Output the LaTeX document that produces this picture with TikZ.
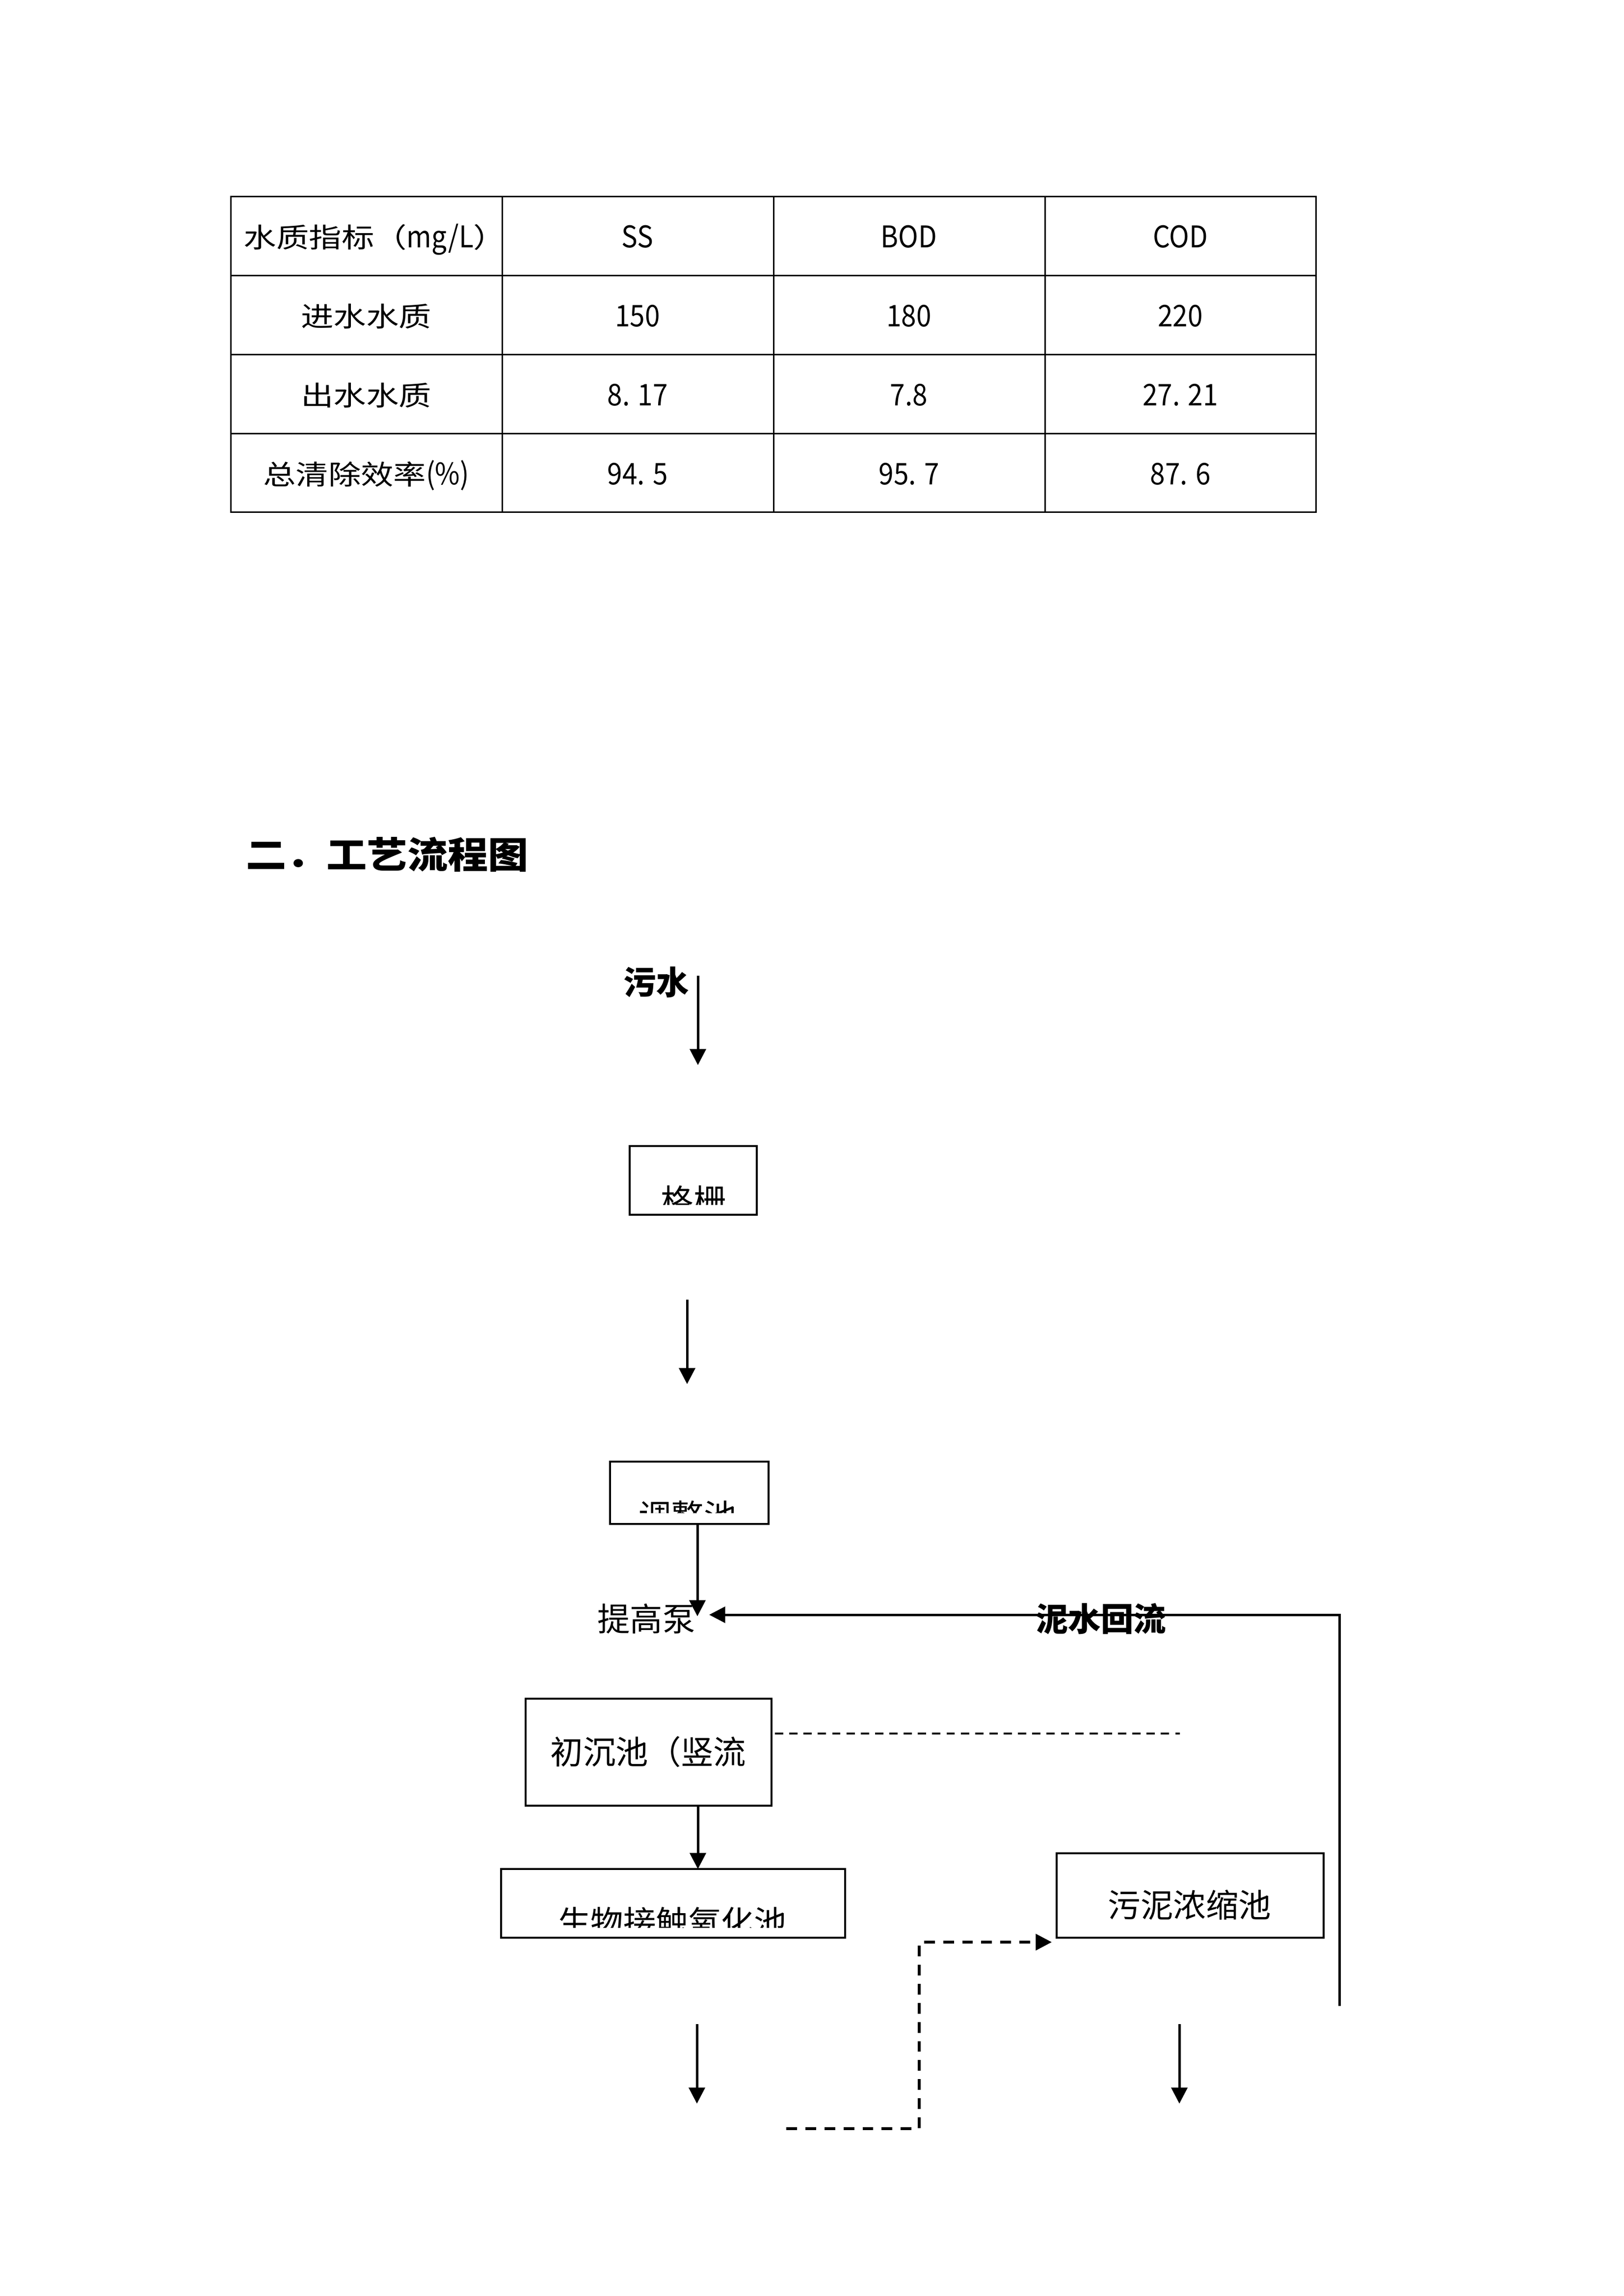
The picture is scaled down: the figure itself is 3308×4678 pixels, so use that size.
\documentclass[tikz,border=0pt]{standalone}
\usepackage{fontspec}
\setmainfont{Noto Sans CJK SC}
\newfontfamily\tabfont[FakeStretch=1.2]{Noto Sans CJK SC}
\newfontfamily\tablat[FakeStretch=0.9]{Noto Sans CJK SC}
\newfontfamily\headfont[FakeStretch=1.1]{Noto Sans CJK SC}
\newcommand\tlat[1]{{\tablat\fontsize{11}{13}\selectfont #1}}
\usetikzlibrary{arrows.meta}
\newdimen\pxu \pxu=0.0634825mm
\tikzset{
  tbl/.style={line width=0.54pt},
  box/.style={draw, line width=0.72pt, inner sep=0pt, outer sep=0pt},
  arr/.style={line width=0.9pt, -{Triangle[length=5.9pt,width=5.9pt]}},
  dasharr/.style={line width=1pt, dash pattern=on 3.96pt off 3.06pt, -{Triangle[length=5.9pt,width=5.9pt]}},
  dashln/.style={line width=0.8pt, dash pattern=on 3.06pt off 2.2pt},
  lbl/.style={inner sep=0pt, anchor=base, font=\fontsize{12}{14}\selectfont},
  blbl/.style={inner sep=0pt, anchor=base, font=\bfseries\fontsize{12}{14}\selectfont},
  tcell/.style={inner sep=0pt, anchor=base, font=\tabfont\fontsize{10}{12}\selectfont},
  tnum/.style={inner sep=0pt, anchor=base, font=\tablat\fontsize{11}{13}\selectfont}
}
\begin{document}
\begin{tikzpicture}[x=0.0634825mm, y=-0.0634825mm]
\useasboundingbox (0,0) rectangle (3308,4678);
\fill[white] (0,0) rectangle (3308,4678);

% ---------- table ----------
\draw[tbl] (470,401) rectangle (2681,1044);
\foreach \xx in {1023,1576,2129} \draw[tbl] (\xx,401) -- (\xx,1044);
\foreach \yy in {562,723,884} \draw[tbl] (470,\yy) -- (2681,\yy);

\node[tcell] (h0) at (764,505) {水质指标（\tlat{mg/L}）};
\node[tnum] (h1) at (1299,505) {SS};
\node[tnum] (h2) at (1852,505) {BOD};
\node[tnum] (h3) at (2405,505) {COD};

\node[tcell] (a0) at (746,666) {进水水质};
\node[tnum] (a1) at (1299,666) {150};
\node[tnum] (a2) at (1852,666) {180};
\node[tnum] (a3) at (2405,666) {220};

\node[tcell] (b0) at (746,827) {出水水质};
\node[tnum] (b1) at (1299,827) {8. 17};
\node[tnum] (b2) at (1852,827) {7.8};
\node[tnum] (b3) at (2405,827) {27. 21};

\node[tcell] (c0) at (746,988) {总清除效率\tlat{(\%)}};
\node[tnum] (c1) at (1299,988) {94. 5};
\node[tnum] (c2) at (1852,988) {95. 7};
\node[tnum] (c3) at (2405,988) {87. 6};

% ---------- heading ----------
\node[inner sep=0pt, anchor=base west, font=\headfont\bfseries\fontsize{13.5}{16}\selectfont] (title) at (500,1769) {二．工艺流程图};

% ---------- flow chart ----------
\node[blbl] (ws) at (1337,2026) {污水};
\coordinate (a1s) at (1422,1988);
\coordinate (a1e) at (1422,2170);
\draw[arr] (a1s) -- (a1e);

% 格栅
\node[box, minimum width=259\pxu, minimum height=140\pxu] (gs) at (1412.5,2405) {};
\begin{scope}
  \clip (1283,2335) rectangle (1542,2454);
  \node[lbl] (gst) at (1413,2471) {格栅};
\end{scope}

\coordinate (a2s) at (1400,2648);
\coordinate (a2e) at (1400,2820);
\draw[arr] (a2s) -- (a2e);

% 调整池
\node[box, minimum width=323\pxu, minimum height=127\pxu] (tz) at (1404.5,3041.5) {};
\begin{scope}
  \clip (1243,2978) rectangle (1566,3082);
  \node[lbl] (tzt) at (1401,3113) {调整池};
\end{scope}

% 提高泵
\node[lbl] (pump) at (1317,3323) {提高泵};
\coordinate (pin) at (1421,3293);
\draw[arr] (tz.south -| pin) -- (pin);

% 泥水回流
\coordinate (r1) at (2729,4087);
\coordinate (r2) at (2729,3290);
\coordinate (r3) at (1445,3290);
\draw[arr] (r1) -- (r2) -- (r3);
\node[blbl] (ret) at (2243,3323) {泥水回流};

% 初沉池
\node[box, minimum width=501\pxu, minimum height=218\pxu] (cc) at (1321.5,3570) {};
\node[lbl] (cct) at (1321,3594) {初沉池（竖流};
\coordinate (d1) at (1579,3532);
\coordinate (d2) at (2404,3532);
\draw[dashln] (d1) -- (d2);

% 生物接触氧化池
\node[box, minimum width=701\pxu, minimum height=140\pxu] (sw) at (1371.5,3878) {};
\begin{scope}
  \clip (1021,3808) rectangle (1722,3927);
  \node[lbl] (swt) at (1370,3941) {生物接触氧化池};
\end{scope}
\coordinate (a3) at (1422,3600);
\draw[arr] (cc.south -| a3) -- (sw.north -| a3);

% 污泥浓缩池
\node[box, minimum width=544\pxu, minimum height=172\pxu] (wn) at (2425,3862) {};
\node[lbl] (wnt) at (2424,3906) {污泥浓缩池};

% dashed sludge arrow
\coordinate (s1) at (1602,4337);
\coordinate (s2) at (1873,4337);
\coordinate (s3) at (1873,3957);
\coordinate (s4) at (2143,3957);
\draw[dasharr] (s1) -- (s2) -- (s3) -- (s4);

% bottom arrows
\coordinate (a4s) at (1420,4124);
\coordinate (a4e) at (1420,4286);
\draw[arr] (a4s) -- (a4e);
\coordinate (a5s) at (2403,4124);
\coordinate (a5e) at (2403,4286);
\draw[arr] (a5s) -- (a5e);
\end{tikzpicture}
\end{document}
